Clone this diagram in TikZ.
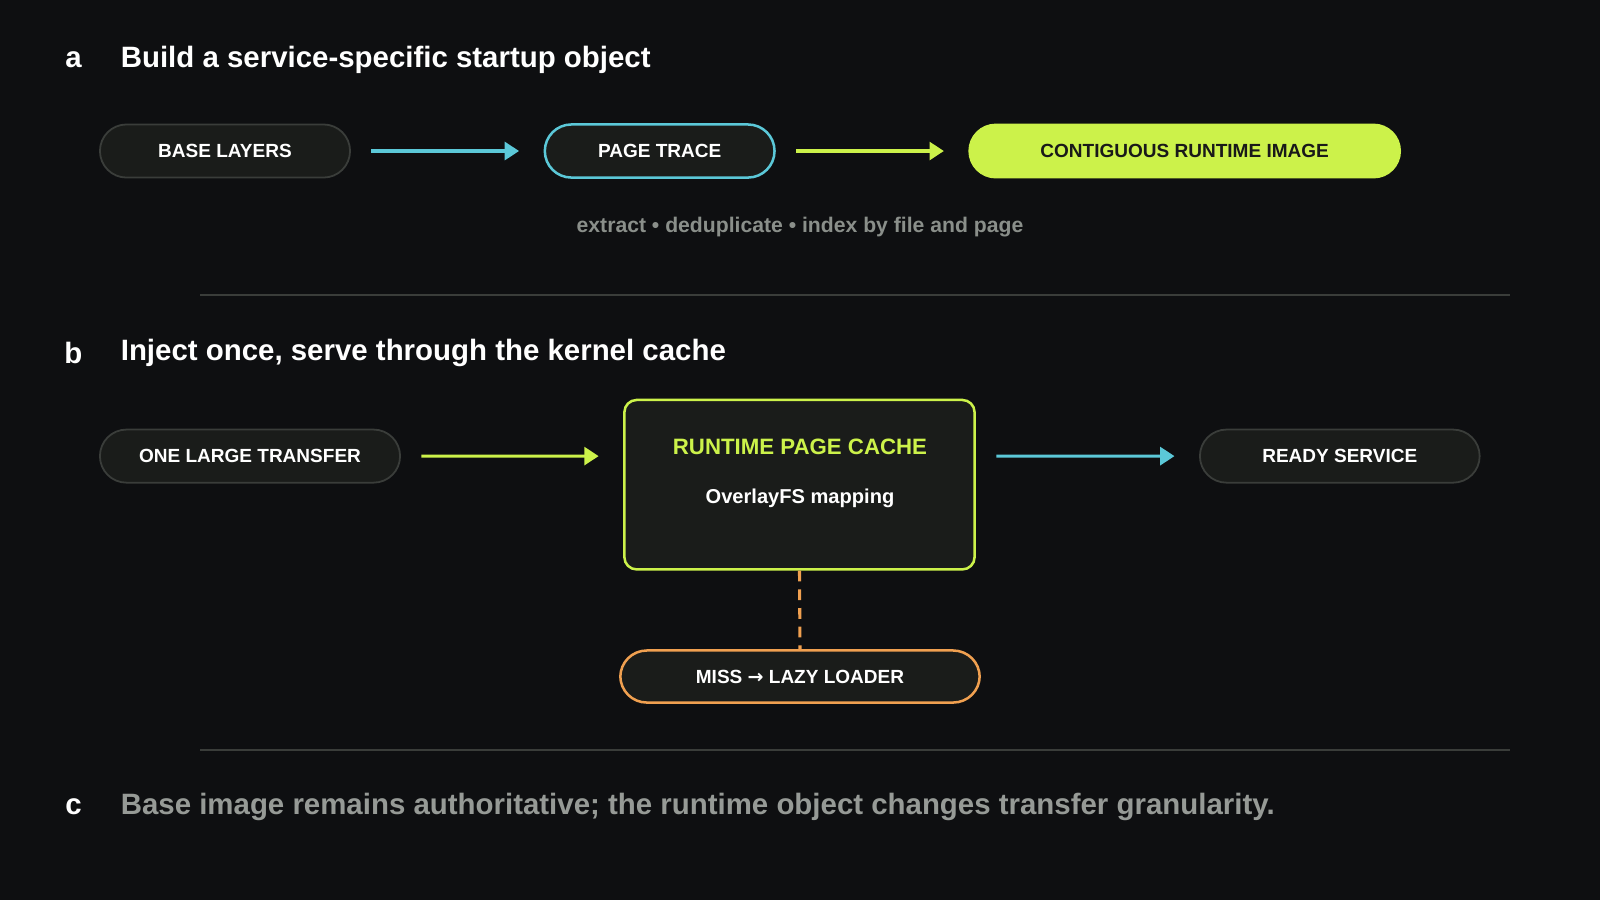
\documentclass[tikz,border=0pt]{standalone}
\usepackage{fontspec}
\setmainfont{Liberation Sans}
\newfontfamily\djv{DejaVu Sans}
\usetikzlibrary{arrows.meta}
\definecolor{bg}{HTML}{0E0F11}
\definecolor{lime}{HTML}{CCF24A}
\definecolor{cyanc}{HTML}{5BC8D8}
\definecolor{orng}{HTML}{F0A050}
\definecolor{pillbd}{HTML}{3A3D3A}
\definecolor{pillfill}{HTML}{1A1C1A}
\definecolor{sub}{HTML}{8A8F8A}
\begin{document}
\begin{tikzpicture}[x=0.01cm,y=-0.01cm,
  pill/.style={draw=pillbd,fill=pillfill,line width=0.5pt,rounded corners=0.26cm,minimum height=0.52cm,inner sep=0pt,text=white,font=\fontsize{5.3pt}{6pt}\selectfont\bfseries},
  title/.style={anchor=west,text=white,font=\fontsize{8.2pt}{9pt}\selectfont\bfseries},
  letter/.style={anchor=center,text=white,font=\fontsize{8.2pt}{9pt}\selectfont\bfseries},
  arr/.style={line width=0.85pt,-{Triangle[length=4pt,width=5pt]}},
  sep/.style={draw=pillbd,line width=0.4pt}]
\fill[bg] (0,0) rectangle (1568,882);
\useasboundingbox (0,0) rectangle (1568,882);
% a
\node[letter] (la) at (72,59) {a};
\node[title] (ta) at (106,59) {Build a service-specific startup object};
\node[pill,minimum width=2.45cm] (base) at (220.5,148) {BASE LAYERS};
\node[pill,draw=cyanc,line width=0.7pt,minimum width=2.25cm] (trace) at (646.5,148) {PAGE TRACE};
\node[pill,draw=lime,fill=lime,text=black!90,minimum width=4.22cm] (img) at (1161,148) {CONTIGUOUS RUNTIME IMAGE};
\draw[arr,cyanc] ([xshift=0.2cm]base.east) -- ([xshift=-0.24cm]trace.west);
\draw[arr,lime] ([xshift=0.2cm]trace.east) -- ([xshift=-0.24cm]img.west);
\node[text=sub,font=\fontsize{5.9pt}{7pt}\selectfont\bfseries] (subt) at (784,223) {extract • deduplicate • index by file and page};
\coordinate (s1a) at (196,289); \coordinate (s1b) at (1480,289);
\draw[sep] (s1a) -- (s1b);
% b
\node[letter] (lb) at (72,346) {b};
\node[title] (tb) at (106,346) {Inject once, serve through the kernel cache};
\node[pill,minimum width=2.94cm] (one) at (245,447) {ONE LARGE TRANSFER};
\node[draw=lime,fill=pillfill,line width=0.7pt,rounded corners=0.12cm,minimum width=3.43cm,minimum height=1.66cm] (cache) at (783.5,475) {};
\node[text=lime,font=\fontsize{6.2pt}{7pt}\selectfont\bfseries] (ct) at (784,438) {RUNTIME PAGE CACHE};
\node[text=white,font=\fontsize{5.6pt}{7pt}\selectfont\bfseries] (cs) at (784,488) {OverlayFS mapping};
\node[pill,minimum width=2.74cm] (ready) at (1313,447) {READY SERVICE};
\draw[arr,lime] ([xshift=0.2cm]one.east) -- ([xshift=-0.24cm,yshift=0.28cm]cache.west);
\draw[arr,cyanc] ([xshift=0.2cm,yshift=0.28cm]cache.east) -- ([xshift=-0.24cm]ready.west);
\node[pill,draw=orng,line width=0.7pt,minimum width=3.52cm,minimum height=0.51cm] (miss) at (784,663) {MISS {\djv\fontsize{5.3pt}{6pt}\selectfont →} LAZY LOADER};
\draw[orng,line width=0.85pt,dash pattern=on 3pt off 2.2pt] (cache.south) -- (miss.north);
\coordinate (s2a) at (196,735); \coordinate (s2b) at (1480,735);
\draw[sep] (s2a) -- (s2b);
% c
\node[letter] (lc) at (72,791) {c};
\node[title,text=sub!90!white] (tc) at (106,791) {Base image remains authoritative; the runtime object changes transfer granularity.};
\end{tikzpicture}
\end{document}
